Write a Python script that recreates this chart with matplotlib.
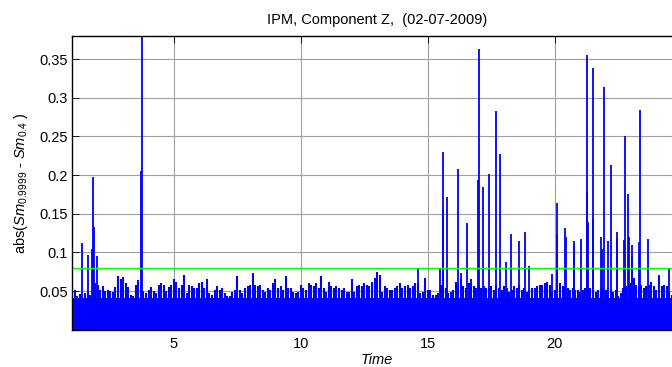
import numpy as np
import matplotlib
matplotlib.use("Agg")
import matplotlib.pyplot as plt

plt.rcParams['font.family'] = ['Liberation Sans', 'DejaVu Sans']
plt.rcParams['mathtext.fontset'] = 'custom'
plt.rcParams['mathtext.rm'] = 'Liberation Sans'
plt.rcParams['mathtext.it'] = 'Liberation Sans:italic'

# background level, one value every 0.1 h starting at t = 1.0
noise_start = 1.0
noise_step = 0.1
noise = [
    0.055, 0.052, 0.044, 0.046, 0.042, 0.047, 0.049, 0.045, 0.055, 0.060,
    0.058, 0.052, 0.056, 0.050, 0.052, 0.050, 0.049, 0.055, 0.070, 0.065,
    0.068, 0.060, 0.055, 0.045, 0.043, 0.058, 0.064, 0.052, 0.050, 0.048,
    0.052, 0.055, 0.050, 0.047, 0.058, 0.060, 0.058, 0.050, 0.055, 0.058,
    # 5.0
    0.065, 0.062, 0.054, 0.058, 0.071, 0.047, 0.058, 0.057, 0.054, 0.054,
    0.060, 0.062, 0.054, 0.065, 0.047, 0.045, 0.051, 0.056, 0.051, 0.054,
    0.047, 0.043, 0.043, 0.049, 0.051, 0.069, 0.051, 0.047, 0.054, 0.056,
    0.058, 0.073, 0.058, 0.056, 0.058, 0.051, 0.049, 0.054, 0.051,
    # 8.9
    0.060, 0.065, 0.054, 0.056, 0.051, 0.069, 0.054, 0.054, 0.049, 0.047,
    0.049, 0.058, 0.054, 0.051, 0.060, 0.058, 0.056, 0.060, 0.054, 0.069,
    0.054, 0.049, 0.062, 0.056, 0.054, 0.056, 0.054, 0.051, 0.054, 0.049,
    0.049, 0.065, 0.049, 0.056, 0.058, 0.056, 0.060, 0.058, 0.056,
    # 12.8
    0.062, 0.067, 0.075, 0.071, 0.049, 0.056, 0.054, 0.051, 0.051, 0.054,
    0.056, 0.060, 0.054, 0.056, 0.058, 0.054, 0.056, 0.060, 0.060, 0.047,
    0.049, 0.067, 0.051, 0.051, 0.045, 0.045, 0.047, 0.058, 0.054, 0.054,
    0.047, 0.049, 0.051, 0.062, 0.058, 0.065, 0.056, 0.054, 0.060, 0.065,
    # 16.8
    0.056, 0.054, 0.058, 0.054, 0.056, 0.054, 0.054, 0.056, 0.051, 0.058,
    0.054, 0.051, 0.056, 0.054, 0.049, 0.051, 0.056, 0.054, 0.058, 0.051,
    0.054, 0.049, 0.051, 0.054, 0.054, 0.056, 0.058, 0.058, 0.060, 0.062,
    0.058, 0.049, 0.051, 0.058, 0.060, 0.056, 0.054, 0.054, 0.051,
    # 20.7
    0.054, 0.051, 0.051, 0.049, 0.051, 0.054, 0.051, 0.054, 0.051, 0.049,
    0.051, 0.049, 0.054, 0.051, 0.054, 0.051, 0.049, 0.051, 0.043, 0.047,
    0.054, 0.056, 0.058, 0.060, 0.067, 0.058, 0.056, 0.058, 0.054, 0.056,
    0.058, 0.062, 0.056, 0.051, 0.069, 0.056, 0.058, 0.056, 0.049, 0.045,
]
floor_level = 0.041

# isolated peaks (time in hours, value)
spike_t = [1.38, 1.61, 1.79, 1.80, 1.84, 1.97, 3.70, 3.73,
           14.61, 15.47, 15.58, 15.61, 15.76, 16.18, 16.30, 16.53,
           16.98, 17.01, 17.16, 17.42, 17.67, 17.84, 18.06, 18.26,
           18.60, 18.82, 18.97, 19.87, 20.09, 20.10, 20.40, 20.44,
           20.74, 20.76, 21.04, 21.25, 21.27, 21.29, 21.49, 21.51,
           21.81, 21.85, 21.95, 22.10, 22.20, 22.43, 22.45, 22.72,
           22.76, 22.87, 22.90, 23.02, 23.05, 23.32, 23.36, 23.67,
           24.10, 24.50]
spike_v = [0.112, 0.097, 0.104, 0.198, 0.133, 0.096, 0.205, 0.380,
           0.079, 0.080, 0.155, 0.230, 0.172, 0.208, 0.073, 0.138,
           0.194, 0.363, 0.185, 0.202, 0.283, 0.227, 0.087, 0.124,
           0.115, 0.126, 0.082, 0.072, 0.164, 0.123, 0.131, 0.120,
           0.115, 0.108, 0.118, 0.356, 0.178, 0.140, 0.143, 0.339,
           0.120, 0.105, 0.314, 0.115, 0.213, 0.126, 0.117, 0.116,
           0.250, 0.175, 0.120, 0.110, 0.096, 0.113, 0.284, 0.117,
           0.071, 0.080]

threshold = 0.08

x_ticks = [5, 10, 15, 20]
y_ticks = [0.05, 0.1, 0.15, 0.2, 0.25, 0.3, 0.35]
y_tick_labels = ['0.05', '0.1', '0.15', '0.2', '0.25', '0.3', '0.35']

t_noise = noise_start + noise_step * np.arange(len(noise))

fig = plt.figure(figsize=(6.72, 3.67), dpi=100)
ax = fig.add_axes([0.1076, 0.1016, 0.9071, 0.8003])

# solid floor + comb of thin peaks on top
ax.axhspan(0, floor_level, color='#0000ff', lw=0)
ax.vlines(t_noise, 0, noise, color='#0000ff', lw=1.5)
ax.vlines(spike_t, 0, spike_v, color='#0000ff', lw=1.3)
ax.axhline(threshold, color='#00ff00', lw=1.0)

ax.set_xlim(1, 25)
ax.set_ylim(0, 0.38)
ax.set_xticks(x_ticks)
ax.set_yticks(y_ticks)
ax.set_yticklabels(y_tick_labels)
ax.tick_params(direction='in', length=5, width=0.6, labelsize=10.5,
               top=True, right=True)
ax.tick_params(axis='x', pad=5)
ax.tick_params(axis='y', pad=3)
ax.grid(True, color='#a0a0a0', lw=0.8)
ax.set_axisbelow(True)
for s in ax.spines.values():
    s.set_linewidth(1.0)

ax.set_title('IPM, Component Z,  (02-07-2009)', fontsize=10.5, pad=9)
ax.set_xlabel('Time', fontsize=10.5, style='italic', labelpad=2)
ax.set_ylabel(r'abs($\mathit{Sm}_{0.9999}$ - $\mathit{Sm}_{0.4}$ )',
              fontsize=10.5, labelpad=7)

fig.savefig('out.png', dpi=100)
